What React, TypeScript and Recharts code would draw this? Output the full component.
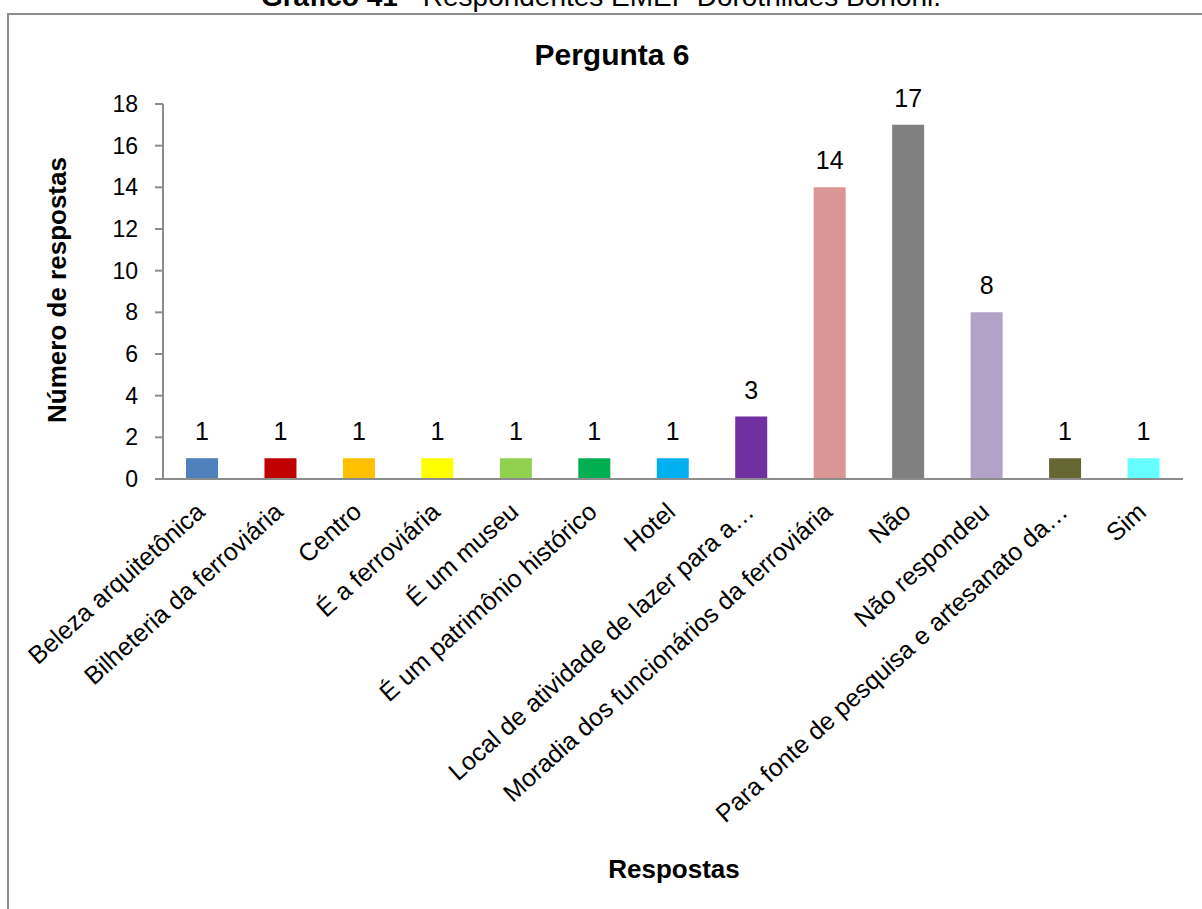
import React from 'react';
import { BarChart, Bar, XAxis, YAxis, Cell, LabelList, Label } from 'recharts';

const categories = [
  'Beleza arquitetônica',
  'Bilheteria da ferroviária',
  'Centro',
  'É a ferroviária',
  'É um museu',
  'É um patrimônio histórico',
  'Hotel',
  'Local de atividade de lazer para a…',
  'Moradia dos funcionários da ferroviária',
  'Não',
  'Não respondeu',
  'Para fonte de pesquisa e artesanato da…',
  'Sim',
];

const respostas = [1, 1, 1, 1, 1, 1, 1, 3, 14, 17, 8, 1, 1];

const barColors = [
  '#4F81BD', '#C00000', '#FFC000', '#FFFF00', '#92D050', '#00B050', '#00B0F0',
  '#7030A0', '#D99694', '#808080', '#B3A2C7', '#666633', '#66FFFF',
];

const yTicks = [0, 2, 4, 6, 8, 10, 12, 14, 16, 18];

const FONT = 'Arial, "Liberation Sans", sans-serif';
const AXIS_GREY = '#8c8c8c';

const data = categories.map((name, i) => ({ name, value: respostas[i] }));

function CategoryTick(props: any) {
  const { x, y, payload } = props;
  return (
    <g transform={`translate(${x + 4},${y + 27})`}>
      <text
        x={0}
        y={0}
        textAnchor="end"
        transform="rotate(-42)"
        fontSize={25}
        fontFamily={FONT}
        fill="#000"
      >
        {payload.value}
      </text>
    </g>
  );
}

export default function App() {
  return (
    <div style={{ position: 'relative', width: 1202, height: 909, overflow: 'hidden', background: '#fff', fontFamily: FONT }}>
      <style>{'body{margin:0}'}</style>
      {/* page caption, cut off at the top like the source */}
      <div
        style={{
          position: 'absolute',
          left: 0,
          width: 1202,
          top: -19,
          textAlign: 'center',
          fontSize: 28,
          lineHeight: '32px',
          color: '#000',
          whiteSpace: 'nowrap',
        }}
      >
        <b>Gráfico 41</b> <span style={{ color: '#999' }}>-</span> Respondentes EMEF Dorothildes Bononi.
      </div>
      {/* chart frame */}
      <div
        style={{
          position: 'absolute',
          left: 7,
          top: 13,
          width: 1300,
          height: 1000,
          borderLeft: `2px solid ${AXIS_GREY}`,
          borderTop: `2px solid ${AXIS_GREY}`,
        }}
      />
      <div style={{ position: 'absolute', left: 0, top: 0 }}>
        <BarChart
          width={1202}
          height={909}
          data={data}
          margin={{ top: 104, right: 19, bottom: 30, left: 103 }}
          barSize={32}
        >
          <text x={612} y={65} textAnchor="middle" fontSize={30} fontWeight="bold" fontFamily={FONT} fill="#000">
            Pergunta 6
          </text>
          <XAxis
            dataKey="name"
            interval={0}
            height={400}
            tickLine={false}
            axisLine={{ stroke: AXIS_GREY, strokeWidth: 2 }}
            tick={<CategoryTick />}
          >
            <Label
              content={() => (
                <text x={674} y={878} textAnchor="middle" fontSize={26} fontWeight="bold" fontFamily={FONT} fill="#000">
                  Respostas
                </text>
              )}
            />
          </XAxis>
          <YAxis
            width={60}
            domain={[0, 18]}
            ticks={yTicks}
            interval={0}
            tickSize={8}
            tickMargin={17}
            axisLine={{ stroke: AXIS_GREY, strokeWidth: 2 }}
            tickLine={{ stroke: AXIS_GREY, strokeWidth: 2 }}
            tick={{ fontSize: 23, fill: '#000', fontFamily: FONT }}
          >
            <Label
              content={() => (
                <text
                  x={66}
                  y={290}
                  transform="rotate(-90, 66, 290)"
                  textAnchor="middle"
                  fontSize={26}
                  fontWeight="bold"
                  fontFamily={FONT}
                  fill="#000"
                >
                  Número de respostas
                </text>
              )}
            />
          </YAxis>
          <Bar dataKey="value" isAnimationActive={false}>
            {data.map((d, i) => (
              <Cell key={d.name} fill={barColors[i]} />
            ))}
            <LabelList
              dataKey="value"
              position="top"
              offset={18}
              style={{ fontSize: 25, fill: '#000', fontFamily: FONT }}
            />
          </Bar>
        </BarChart>
      </div>
    </div>
  );
}
